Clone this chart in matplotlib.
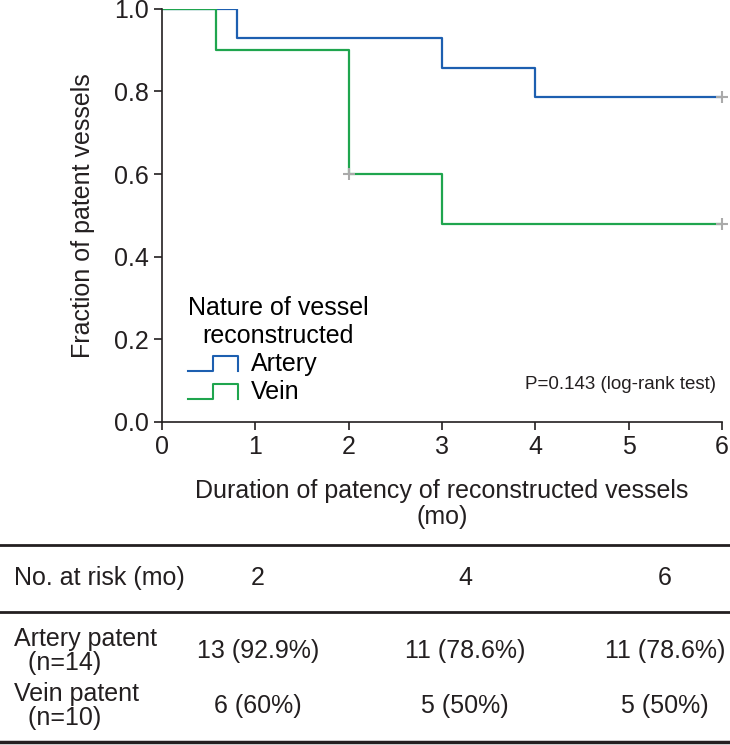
import matplotlib.pyplot as plt
from matplotlib.legend_handler import HandlerBase
from matplotlib.lines import Line2D

plt.rcParams['font.family'] = ['Liberation Sans', 'DejaVu Sans']

# Kaplan-Meier step data (time in months, fraction patent)
artery_t = [0, 0.8, 3, 4, 6]
artery_s = [1.0, 0.929, 0.857, 0.786, 0.786]
vein_t = [0, 0.58, 2, 3, 6]
vein_s = [1.0, 0.9, 0.6, 0.48, 0.48]

# censored points
cens_t = [2, 6, 6]
cens_s = [0.6, 0.786, 0.48]

xticks = [0, 1, 2, 3, 4, 5, 6]
yticks = [0.0, 0.2, 0.4, 0.6, 0.8, 1.0]

# at-risk table
risk_months = ['2', '4', '6']
risk_labels = ['Artery patent\n  (n=14)', 'Vein patent\n  (n=10)']
risk_values = [['13 (92.9%)', '11 (78.6%)', '11 (78.6%)'],
               ['6 (60%)', '5 (50%)', '5 (50%)']]

BLUE = '#1d5fb0'
GREEN = '#1fa54e'
INK = '#231f20'
FS = 18


class StepHandler(HandlerBase):
    # legend glyph drawn as a little step
    def create_artists(self, legend, orig_handle, xdescent, ydescent,
                       width, height, fontsize, trans):
        x0 = -xdescent
        lo, hi = 0.0, height
        xs = [x0, x0 + width * 0.5, x0 + width * 0.5, x0 + width, x0 + width]
        ys = [lo, lo, hi, hi, lo]
        ln = Line2D(xs, ys, color=orig_handle.get_color(), lw=1.5,
                    transform=trans)
        return [ln]


fig = plt.figure(figsize=(7.3, 7.45), dpi=100)
ax = fig.add_axes([0.222, 0.4336, 0.767, 0.5545])

la, = ax.step(artery_t, artery_s, where='post', color=BLUE, lw=1.6,
              label='Artery')
lv, = ax.step(vein_t, vein_s, where='post', color=GREEN, lw=1.6,
              label='Vein')
ax.plot(cens_t, cens_s, '+', color='#aaaaaa', ms=9, mew=1.5, zorder=5,
        clip_on=False)

ax.set_xlim(0, 6)
ax.set_ylim(0, 1.0)
ax.set_xticks(xticks)
ax.set_yticks(yticks)
ax.set_yticklabels([f'{v:.1f}' for v in yticks])
ax.tick_params(labelsize=FS, direction='out', length=6, width=1.2,
               color=INK, labelcolor=INK)
ax.spines['top'].set_visible(False)
ax.spines['right'].set_visible(False)
for s in ['left', 'bottom']:
    ax.spines[s].set_linewidth(1.2)
    ax.spines[s].set_color(INK)
ax.set_xlabel('Duration of patency of reconstructed vessels\n(mo)',
              fontsize=FS, color=INK, labelpad=14, linespacing=1.15)
ax.set_ylabel('Fraction of patent vessels', fontsize=FS, color=INK,
              labelpad=14)

leg = ax.legend(handles=[la, lv], title='Nature of vessel\nreconstructed',
                loc='lower left', bbox_to_anchor=(0.015, 0.0),
                frameon=False, fontsize=FS, title_fontsize=FS,
                handler_map={Line2D: StepHandler()}, handlelength=2.0,
                handleheight=0.55, handletextpad=0.5, labelspacing=0.16,
                borderpad=0.2)
leg._legend_box.align = 'left'
leg.get_title().set_multialignment('center')
leg.get_title().set_linespacing(1.25)
ax.text(0.99, 0.09, 'P=0.143 (log-rank test)', transform=ax.transAxes,
        ha='right', va='center', fontsize=13.5, color=INK)

# at-risk table below
col_x = [258 / 730, 465 / 730, 665 / 730]
lab_x = 14 / 730


def fy(py):
    return 1 - py / 745


for py, lw in [(545, 2.0), (612, 2.0), (742, 2.5)]:
    fig.add_artist(Line2D([0, 1], [fy(py), fy(py)], color=INK, lw=lw))

fig.text(lab_x, fy(578), 'No. at risk (mo)', fontsize=FS, va='center',
         color=INK)
for x, m in zip(col_x, risk_months):
    fig.text(x, fy(578), m, fontsize=FS, ha='center', va='center', color=INK)

row_y = [651, 706]
for ry, lab, vals in zip(row_y, risk_labels, risk_values):
    fig.text(lab_x, fy(ry), lab, fontsize=FS, va='center', color=INK,
             linespacing=1.05)
    for x, v in zip(col_x, vals):
        fig.text(x, fy(ry), v, fontsize=FS, ha='center', va='center',
                 color=INK)

fig.savefig('out.png', dpi=100)
